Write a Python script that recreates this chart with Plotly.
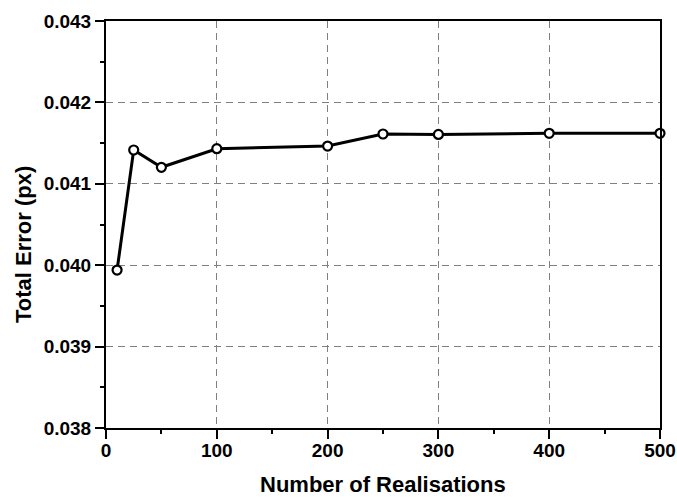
import plotly.graph_objects as go

realisations = [10, 25, 50, 100, 200, 250, 300, 400, 500]
total_error = [0.03994, 0.041415, 0.041203, 0.041431, 0.041464, 0.041612, 0.041606, 0.04162, 0.04162]

x_ticks = [0, 100, 200, 300, 400, 500]
y_ticks = [0.038, 0.039, 0.040, 0.041, 0.042, 0.043]
y_tick_labels = ["0.038", "0.039", "0.040", "0.041", "0.042", "0.043"]

FONT = "Liberation Sans, Arial, Helvetica, sans-serif"

fig = go.Figure()
fig.add_trace(go.Scatter(
    x=realisations, y=total_error, mode="lines+markers",
    line=dict(color="black", width=3),
    marker=dict(symbol="circle", size=9, color="white", line=dict(color="black", width=2.2)),
    showlegend=False, cliponaxis=False,
))

axis_common = dict(
    showline=True, linecolor="black", linewidth=2, mirror=True,
    ticks="outside", ticklen=9, tickwidth=1.5, tickcolor="black",
    showgrid=True, gridcolor="#808080", gridwidth=1.2, griddash="7px,5px",
    zeroline=False, automargin=False,
    tickfont=dict(family=FONT, size=19, color="black", weight="bold"),
)

fig.update_xaxes(
    range=[0, 500], tickvals=x_ticks, ticklabelstandoff=-5,
    minor=dict(ticks="outside", ticklen=4, tickwidth=1.5, tickcolor="black", dtick=50, showgrid=False),
    **axis_common,
)
fig.update_yaxes(
    range=[0.038, 0.043], tickvals=y_ticks, ticktext=y_tick_labels,
    minor=dict(ticks="outside", ticklen=4, tickwidth=1.5, tickcolor="black", dtick=0.0005, showgrid=False),
    **axis_common,
)

fig.add_annotation(
    text="<b>Total Error (px)</b>", textangle=-90,
    xref="paper", yref="paper", x=-0.1498, y=0.4496,
    xanchor="center", yanchor="middle", showarrow=False,
    font=dict(family=FONT, size=22, color="black"),
)
fig.add_annotation(
    text="<b>Number of Realisations</b>",
    xref="paper", yref="paper", x=0.5, y=-0.1376,
    xanchor="center", yanchor="middle", showarrow=False,
    font=dict(family=FONT, size=22, color="black"),
)

fig.update_layout(
    width=677, height=498,
    margin=dict(l=106, r=17, t=21, b=70),
    paper_bgcolor="white", plot_bgcolor="white",
)

fig.write_html("out.html")
